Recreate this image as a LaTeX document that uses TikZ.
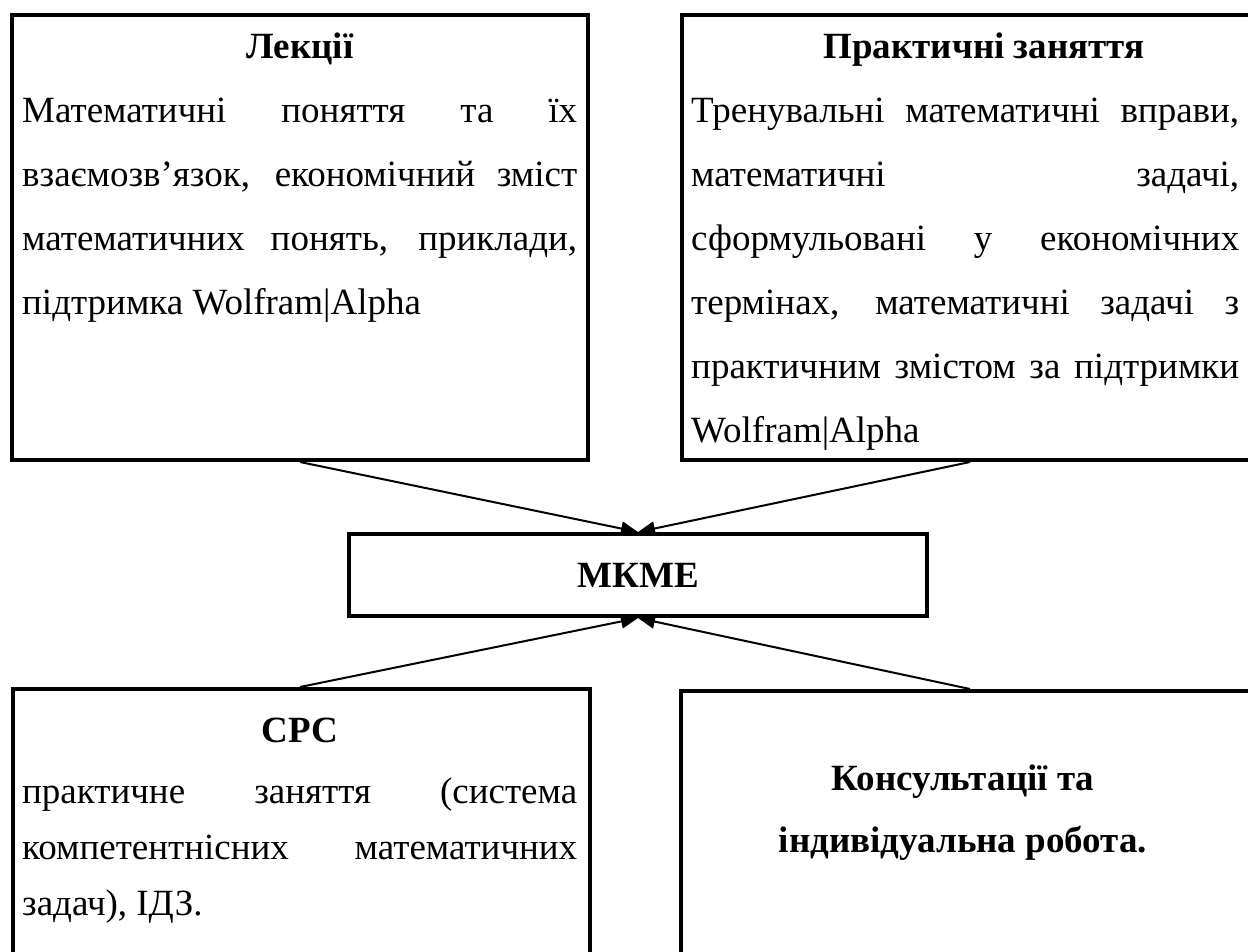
\documentclass[tikz,border=0pt]{standalone}
\usepackage{fontspec}
\setmainfont{Liberation Serif}
\usetikzlibrary{arrows.meta}
\newcommand\bodyfnt{\fontsize{37}{60}\selectfont}
\newcommand\jl[1]{\makebox[555pt][s]{#1}}
\newcommand\jr[1]{\makebox[548pt][s]{#1}}
\begin{document}
\begin{tikzpicture}[x=1pt,y=-1pt,
  box/.style={draw, line width=4pt, rectangle, inner sep=0pt},
  txt/.style={anchor=base west, inner sep=0pt, font=\bodyfnt},
  ttl/.style={anchor=base, inner sep=0pt, font=\bodyfnt\bfseries},
  conn/.style={line width=2pt, -{Triangle[length=17pt,width=14pt]}}]
\useasboundingbox (0,0) rectangle (1248,951);
\fill[white] (0,0) rectangle (1248,951);
% boxes
\node[box, minimum width=576pt, minimum height=445pt] (lec) at (300,237.5) {};
\node[box, minimum width=580pt, minimum height=445pt] (prac) at (972,237.5) {};
\node[box, minimum width=578pt, minimum height=82pt] (mk) at (638,575) {};
\node[box, minimum width=577pt, minimum height=291pt] (srs) at (301.5,834.5) {};
\node[box, minimum width=581pt, minimum height=289pt] (cons) at (971.5,835.5) {};
% Лекції
\node[ttl] (lt) at (300,58) {Лекції};
\node[txt] (l1) at (22,122) {\jl{Математичні поняття та їх}};
\node[txt] (l2) at (22,186) {\jl{взаємозв’язок, економічний зміст}};
\node[txt] (l3) at (22,250) {\jl{математичних понять, приклади,}};
\node[txt] (l4) at (22,314) {підтримка Wolfram|Alpha};
% Практичні заняття
\node[ttl] (pt) at (984,58) {Практичні заняття};
\node[txt] (p1) at (691,122) {\jr{Тренувальні математичні вправи,}};
\node[txt] (p2) at (691,186) {\jr{математичні задачі,}};
\node[txt] (p3) at (691,250) {\jr{сформульовані у економічних}};
\node[txt] (p4) at (691,314) {\jr{термінах, математичні задачі з}};
\node[txt] (p5) at (691,378) {\jr{практичним змістом за підтримки}};
\node[txt] (p6) at (691,442) {Wolfram|Alpha};
% МКМЕ
\node[ttl, anchor=center] (mt) at (638,575) {МКМЕ};
% СРС
\node[ttl] (st) at (300,742) {СРС};
\node[txt] (s1) at (22,803) {\jl{практичне заняття (система}};
\node[txt] (s2) at (22,859) {\jl{компетентнісних математичних}};
\node[txt] (s3) at (22,915) {задач), ІДЗ.};
% Консультації
\node[ttl] (c1) at (963,790) {Консультації та};
\node[ttl] (c2) at (963,852) {індивідуальна робота.};
% connectors
\coordinate (a1) at (300,462);
\coordinate (a2) at (970,462);
\coordinate (b1) at (300,687);
\coordinate (b2) at (970,689);
\draw[conn] (a1) -- (mk.north);
\draw[conn] (a2) -- (mk.north);
\draw[conn] (b1) -- (mk.south);
\draw[conn] (b2) -- (mk.south);
\end{tikzpicture}
\end{document}
